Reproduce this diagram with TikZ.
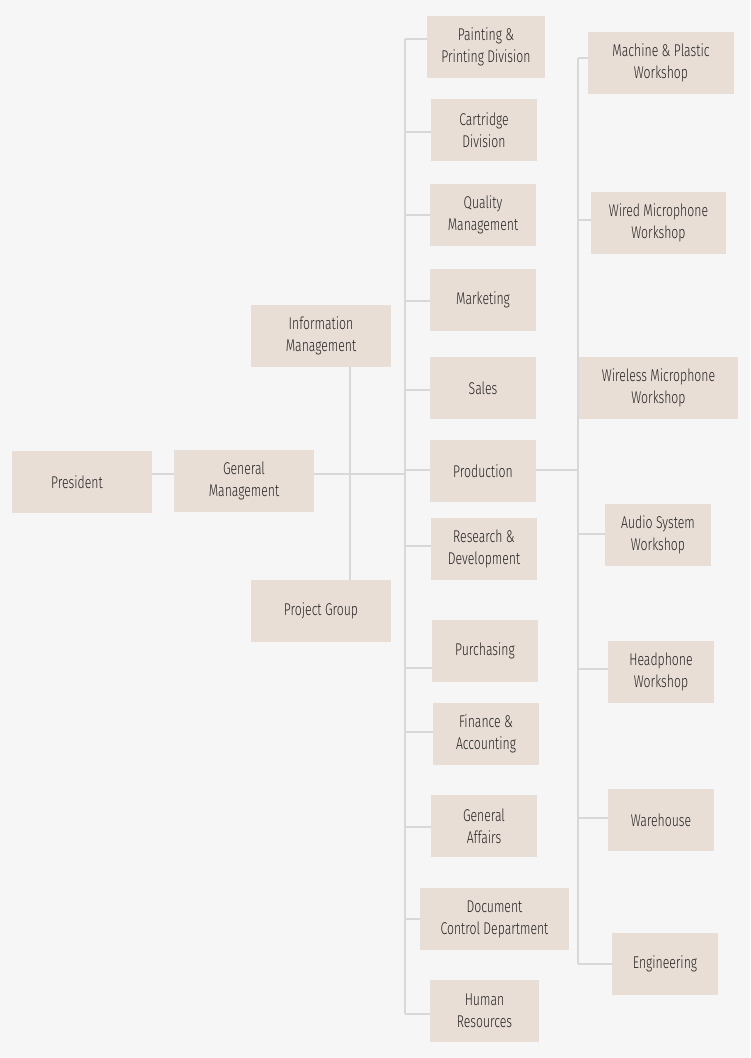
\documentclass[tikz,border=0pt]{standalone}
\usepackage{fontspec}
\setmainfont{Fira Sans}[UprightFont={* Light},FakeStretch=0.72]
\definecolor{bgc}{HTML}{F6F6F6}
\definecolor{boxc}{HTML}{E8DED5}
\definecolor{linec}{HTML}{D8D8D8}
\definecolor{txtc}{HTML}{222222}
\begin{document}
\begin{tikzpicture}[x=1pt,y=-1pt,
  box/.style={rectangle,fill=boxc,inner sep=0pt,minimum height=62pt,align=center,
    text=txtc,font=\fontsize{17}{22}\selectfont},
  conn/.style={draw=linec,line width=2pt}]
\fill[bgc] (0,0) rectangle (750,1058);
\useasboundingbox (0,0) rectangle (750,1058);
% left part
\node[box,minimum width=140pt] (pres) at (82,482) {\hspace*{-10pt}President};
\node[box,minimum width=140pt] (gm) at (244,481) {General\\Management};
\node[box,minimum width=140pt] (im) at (321,336) {Information\\Management};
\node[box,minimum width=140pt] (pg) at (321,611) {Project Group};
% middle column
\node[box,minimum width=118pt] (pp) at (486,47) {Painting \&\\Printing Division};
\node[box,minimum width=106pt] (cd) at (484,130) {Cartridge\\Division};
\node[box,minimum width=106pt] (qm) at (483,215) {Quality\\Management};
\node[box,minimum width=106pt] (mk) at (483,300) {Marketing};
\node[box,minimum width=106pt] (sa) at (483,388) {Sales};
\node[box,minimum width=106pt] (pr) at (483,471) {Production};
\node[box,minimum width=106pt] (rd) at (484,549) {Research \&\\Development};
\node[box,minimum width=106pt] (pu) at (485,651) {Purchasing};
\node[box,minimum width=106pt] (fa) at (486,734) {Finance \&\\Accounting};
\node[box,minimum width=106pt] (ga) at (484,826) {General\\Affairs};
\node[box,minimum width=149pt] (dc) at (494.5,919) {Document\\Control Department};
\node[box,minimum width=109pt] (hr) at (484.5,1011) {Human\\Resources};
% right column
\node[box,minimum width=146pt] (mp) at (661,63) {Machine \& Plastic\\Workshop};
\node[box,minimum width=135pt] (wm) at (658.5,223) {Wired Microphone\\Workshop};
\node[box,minimum width=159pt] (wl) at (658.5,388) {Wireless Microphone\\Workshop};
\node[box,minimum width=106pt] (as) at (658,535) {Audio System\\Workshop};
\node[box,minimum width=106pt] (hp) at (661,672) {Headphone\\Workshop};
\node[box,minimum width=106pt] (wh) at (661,820) {Warehouse};
\node[box,minimum width=106pt] (en) at (665,964) {Engineering};
% bus coordinates
\coordinate (lbt) at (405,39);
\coordinate (lbb) at (405,1014);
\coordinate (rbt) at (578,58);
\coordinate (rbb) at (578,964);
\coordinate (imx) at (350,474);
% connectors left
\draw[conn] ([yshift=8pt]pres.east) -- ([yshift=7pt]gm.west);
\draw[conn] ([yshift=7pt]gm.east) -- ([yshift=7pt]gm.east -| lbt);
\draw[conn] (im.south -| imx) -- (pg.north -| imx);
% left bus
\draw[conn] (lbt) -- (lbb);
\draw[conn] ([yshift=8pt]pp.west) -- ([yshift=8pt]pp.west -| lbt);
\draw[conn] ([yshift=-2pt]cd.west) -- ([yshift=-2pt]cd.west -| lbt);
\draw[conn] (qm.west) -- (qm.west -| lbt);
\draw[conn] ([yshift=-1pt]mk.west) -- ([yshift=-1pt]mk.west -| lbt);
\draw[conn] ([yshift=-2pt]sa.west) -- ([yshift=-2pt]sa.west -| lbt);
\draw[conn] ([yshift=1pt]pr.west) -- ([yshift=1pt]pr.west -| lbt);
\draw[conn] ([yshift=3pt]rd.west) -- ([yshift=3pt]rd.west -| lbt);
\draw[conn] ([yshift=-17pt]pu.west) -- ([yshift=-17pt]pu.west -| lbt);
\draw[conn] ([yshift=2pt]fa.west) -- ([yshift=2pt]fa.west -| lbt);
\draw[conn] ([yshift=-1pt]ga.west) -- ([yshift=-1pt]ga.west -| lbt);
\draw[conn] (dc.west) -- (dc.west -| lbt);
\draw[conn] ([yshift=-3pt]hr.west) -- ([yshift=-3pt]hr.west -| lbt);
% right bus
\draw[conn] (rbt) -- (rbb);
\draw[conn] ([yshift=1pt]pr.east) -- ([yshift=1pt]pr.east -| rbt);
\draw[conn] ([yshift=5pt]mp.west) -- ([yshift=5pt]mp.west -| rbt);
\draw[conn] ([yshift=3pt]wm.west) -- ([yshift=3pt]wm.west -| rbt);
\draw[conn] (wl.west) -- (wl.west -| rbt);
\draw[conn] ([yshift=1pt]as.west) -- ([yshift=1pt]as.west -| rbt);
\draw[conn] ([yshift=3pt]hp.west) -- ([yshift=3pt]hp.west -| rbt);
\draw[conn] ([yshift=2pt]wh.west) -- ([yshift=2pt]wh.west -| rbt);
\draw[conn] (en.west) -- (en.west -| rbt);
\end{tikzpicture}
\end{document}
